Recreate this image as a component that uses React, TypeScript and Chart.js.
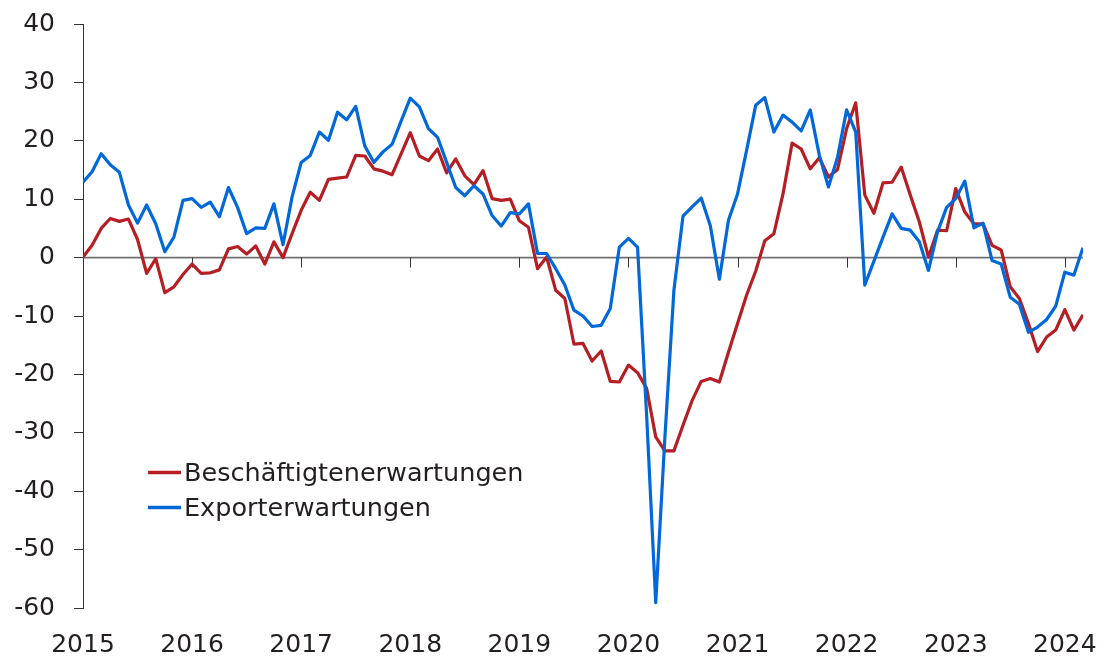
import React, { useEffect, useRef } from "react";
import { Chart, registerables } from "chart.js";

Chart.register(...registerables);

// Year tick labels (one tick at each January)
const yearLabels = ["2015", "2016", "2017", "2018", "2019", "2020", "2021", "2022", "2023", "2024"];

// Monthly categories Jan 2015 .. Mar 2024 (111 months), as month index from Jan 2015
const monthCount = 111;

// Beschäftigtenerwartungen (employment expectations), monthly
const employment = [
  0.1, 2.1, 5.0, 6.7, 6.2, 6.6, 3.1, -2.7, -0.2, -6.0, -5.0, -2.9,
  -1.1, -2.7, -2.6, -2.1, 1.5, 1.9, 0.6, 2.0, -1.1, 2.7, 0.0, 4.1,
  8.1, 11.2, 9.8, 13.4, 13.6, 13.8, 17.5, 17.4, 15.2, 14.8, 14.2, 17.8,
  21.4, 17.4, 16.6, 18.6, 14.5, 16.9, 14.0, 12.5, 14.9, 10.1, 9.8, 10.0,
  6.3, 5.2, -1.9, 0.1, -5.6, -7.0, -14.8, -14.7, -17.7, -16.0, -21.2, -21.3,
  -18.4, -19.7, -22.4, -30.7, -33.1, -33.1, -28.7, -24.5, -21.2, -20.7, -21.3, -16.2,
  -11.3, -6.4, -2.3, 2.9, 4.1, 10.9, 19.6, 18.6, 15.2, 17.1, 13.8, 15.1,
  22.1, 26.5, 10.7, 7.6, 12.8, 12.9, 15.5, 10.7, 6.1, 0.1, 4.7, 4.6,
  11.8, 7.8, 5.8, 5.8, 2.1, 1.3, -5.0, -7.0, -11.3, -16.1, -13.6, -12.4,
  -8.9, -12.4, -9.8,
];

// Exporterwartungen (export expectations), monthly
const exportExp = [
  12.9, 14.7, 17.8, 15.9, 14.6, 9.0, 5.9, 9.0, 5.8, 1.0, 3.5, 9.8,
  10.1, 8.6, 9.5, 7.0, 12.0, 8.6, 4.1, 5.1, 5.0, 9.2, 2.2, 10.4,
  16.3, 17.5, 21.5, 20.1, 24.9, 23.6, 25.9, 19.1, 16.3, 18.1, 19.4, 23.4,
  27.3, 25.8, 22.1, 20.6, 16.3, 12.0, 10.6, 12.3, 10.9, 7.2, 5.4, 7.7,
  7.5, 9.2, 0.7, 0.7, -1.9, -4.7, -9.0, -10.0, -11.8, -11.6, -8.7, 1.8,
  3.3, 1.8, -27.0, -59.1, -31.0, -5.6, 7.1, 8.7, 10.2, 5.5, -3.7, 6.4,
  10.9, 18.4, 26.1, 27.4, 21.5, 24.4, 23.2, 21.7, 25.3, 17.5, 12.1, 17.2,
  25.3, 21.5, -4.7, -0.6, 3.5, 7.5, 5.0, 4.7, 2.7, -2.2, 4.4, 8.6,
  10.1, 13.1, 5.1, 5.9, -0.5, -1.1, -6.8, -8.0, -12.8, -11.9, -10.6, -8.3,
  -2.5, -3.0, 1.7,
];

const seriesNames = ["Beschäftigtenerwartungen", "Exporterwartungen"];
const seriesColors = ["#b51f24", "#0068d9"];

const FONT = "'DejaVu Sans', sans-serif";
const TEXT_COLOR = "#231f20";

const zeroLinePlugin = {
  id: "zeroLine",
  beforeDatasetsDraw(chart: any) {
    const { ctx, chartArea, scales } = chart;
    const x = scales.x;
    const y = scales.y;
    const y0 = y.getPixelForValue(0);
    ctx.save();
    ctx.strokeStyle = "#707070";
    ctx.lineWidth = 1.6;
    ctx.beginPath();
    ctx.moveTo(chartArea.left, y0);
    ctx.lineTo(chartArea.right, y0);
    ctx.stroke();
    ctx.strokeStyle = "#333333";
    ctx.lineWidth = 1;
    ctx.beginPath();
    x.ticks.forEach((t: any) => {
      const px = Math.round(x.getPixelForValue(t.value)) + 0.5;
      ctx.moveTo(px, y0);
      ctx.lineTo(px, y0 + 10);
    });
    ctx.stroke();
    ctx.restore();
  },
};

const insetLegendPlugin = {
  id: "insetLegend",
  afterDraw(chart: any) {
    const { ctx } = chart;
    const x0 = 148;
    const lineLen = 33;
    const gap = 3;
    const rowY = [481, 516];
    ctx.save();
    ctx.font = `25.5px ${FONT}`;
    ctx.textBaseline = "alphabetic";
    ctx.textAlign = "left";
    chart.data.datasets.forEach((ds: any, i: number) => {
      const by = rowY[i];
      const ly = by - 8.5;
      ctx.strokeStyle = ds.borderColor;
      ctx.lineWidth = 3.5;
      ctx.lineCap = "butt";
      ctx.beginPath();
      ctx.moveTo(x0, ly);
      ctx.lineTo(x0 + lineLen, ly);
      ctx.stroke();
      ctx.fillStyle = TEXT_COLOR;
      ctx.fillText(ds.label, x0 + lineLen + gap, by);
    });
    ctx.restore();
  },
};

export default function App() {
  const canvasRef = useRef<HTMLCanvasElement | null>(null);

  useEffect(() => {
    const canvas = canvasRef.current;
    if (!canvas) return;
    const idx = Array.from({ length: monthCount }, (_, i) => i);
    const chart = new Chart(canvas, {
      type: "line",
      data: {
        datasets: [
          {
            label: seriesNames[0],
            data: idx.map((i) => ({ x: i, y: employment[i] })),
            borderColor: seriesColors[0],
            backgroundColor: seriesColors[0],
            borderWidth: 3.2,
            pointRadius: 0,
            tension: 0,
            borderJoinStyle: "round",
            order: 1,
          },
          {
            label: seriesNames[1],
            data: idx.map((i) => ({ x: i, y: exportExp[i] })),
            borderColor: seriesColors[1],
            backgroundColor: seriesColors[1],
            borderWidth: 3.2,
            pointRadius: 0,
            tension: 0,
            borderJoinStyle: "round",
            order: 0,
          },
        ],
      },
      options: {
        responsive: false,
        animation: false,
        layout: { padding: { top: 24, right: 21, bottom: 0, left: 0 } },
        plugins: {
          legend: { display: false },
          tooltip: { enabled: false },
        },
        scales: {
          x: {
            type: "linear",
            min: 0,
            max: monthCount - 1,
            afterBuildTicks: (s: any) => {
              s.ticks = yearLabels.map((_, k) => ({ value: k * 12 }));
            },
            afterFit: (s: any) => {
              s.height = 51;
              s.paddingLeft = 0;
              s.paddingRight = 0;
            },
            ticks: {
              autoSkip: false,
              maxRotation: 0,
              padding: 22,
              color: TEXT_COLOR,
              font: { family: FONT, size: 25 },
              callback: (v: any) => yearLabels[Math.round(Number(v) / 12)] ?? "",
            },
            grid: { display: false, drawTicks: false },
            border: { display: false },
          },
          y: {
            min: -60,
            max: 40,
            afterFit: (s: any) => {
              s.width = 83;
              s.paddingTop = 0;
              s.paddingBottom = 0;
            },
            ticks: {
              stepSize: 10,
              padding: 19,
              color: TEXT_COLOR,
              font: { family: FONT, size: 25 },
            },
            grid: {
              drawOnChartArea: false,
              drawTicks: true,
              tickLength: 9,
              color: "#333333",
              lineWidth: 1,
            },
            border: { display: true, color: "#333333", width: 1 },
          },
        },
      },
      plugins: [zeroLinePlugin, insetLegendPlugin],
    });
    return () => chart.destroy();
  }, []);

  return (
    <div style={{ position: "fixed", left: 0, top: 0, width: 1104, height: 659, background: "#fff" }}>
      <canvas ref={canvasRef} width={1104} height={659} style={{ display: "block" }} />
    </div>
  );
}
